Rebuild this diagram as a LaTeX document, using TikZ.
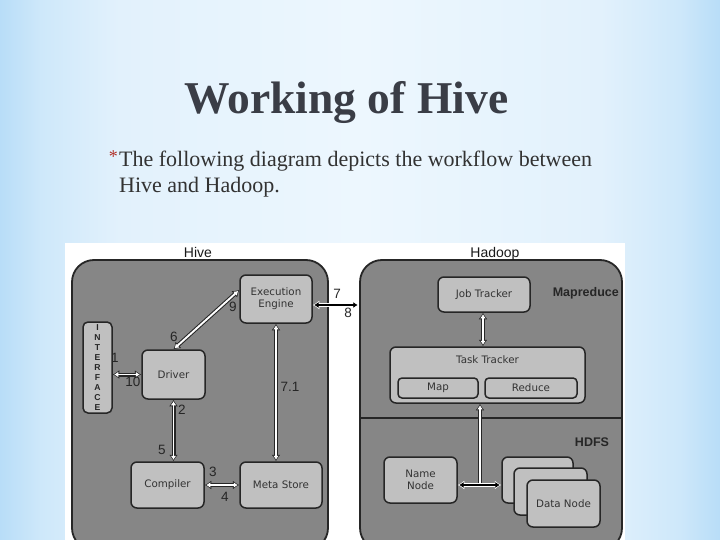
\documentclass[tikz,border=0pt]{standalone}
\usepackage{fontspec}
\setmainfont{Liberation Serif}
\newfontfamily\boxfont{DejaVu Sans}
\newfontfamily\lsans{Liberation Sans}
\usetikzlibrary{arrows.meta,calc}
\definecolor{bgedge}{RGB}{184,221,248}
\definecolor{bgnear}{RGB}{206,232,250}
\definecolor{bglight}{RGB}{226,241,252}
\definecolor{bgmid}{RGB}{237,247,254}
\definecolor{outerfill}{RGB}{134,134,134}
\definecolor{innerfill}{RGB}{192,192,192}
\definecolor{edgecol}{RGB}{38,38,38}
\definecolor{titlecol}{RGB}{58,61,70}
\definecolor{subcol}{RGB}{50,50,50}
\definecolor{starcol}{RGB}{176,48,40}
\pgfdeclarehorizontalshading{bgshade}{100bp}{color(0bp)=(bgedge); color(25bp)=(bgedge); color(27.8bp)=(bgnear); color(33.3bp)=(bglight); color(50bp)=(bgmid); color(66.7bp)=(bglight); color(72.2bp)=(bgnear); color(75bp)=(bgedge); color(100bp)=(bgedge)}
\tikzset{
  bigbox/.style={draw=edgecol, line width=1.8pt, fill=outerfill, rounded corners=22pt, inner sep=0pt},
  box/.style={draw=edgecol, line width=1.5pt, fill=innerfill, rounded corners=6pt, inner sep=0pt,
    font=\boxfont\fontsize{10.3}{12}\selectfont, text=black!80, align=center},
  num/.style={font=\lsans\fontsize{13.5}{13.5}\selectfont, text=black!85, inner sep=0pt},
  grp/.style={font=\lsans\fontsize{14}{14}\selectfont, text=black!90, inner sep=0pt, anchor=base},
  sect/.style={font=\lsans\bfseries\fontsize{12.5}{13}\selectfont, text=black!85, inner sep=0pt},
  hwout/.style={draw=black!85, line width=4pt, arrows={Latex[length=6.5pt,width=9pt]-Latex[length=6.5pt,width=9pt]}},
  hwin/.style={draw=white, line width=1.9pt, arrows={Latex[length=4pt,width=5.5pt]-Latex[length=4pt,width=5.5pt]}, shorten <=1.5pt, shorten >=1.5pt},
  hbout/.style={draw=white, line width=4pt, arrows={Latex[length=6.5pt,width=9pt]-Latex[length=6.5pt,width=9pt]}},
  hbin/.style={draw=black, line width=1.8pt, arrows={Latex[length=4.3pt,width=6pt]-Latex[length=4.3pt,width=6pt]}, shorten <=1.5pt, shorten >=1.5pt},
  upout/.style={draw=black!85, line width=4pt, arrows={-Latex[length=6.5pt,width=9pt]}},
  upin/.style={draw=white, line width=1.9pt, arrows={-Latex[length=4pt,width=5.5pt]}, shorten >=1.5pt},
}
\begin{document}
\begin{tikzpicture}[x=1pt,y=-1pt]
\useasboundingbox (0,0) rectangle (720,540);
% background
\shade[shading=bgshade] (0,0) rectangle (720,540);
% title
\node[anchor=base, font=\bfseries\fontsize{45.5}{46}\selectfont, text=titlecol, inner sep=0pt] (title) at (346.5,114) {Working of Hive};
\node[anchor=base west, font=\fontsize{22}{26}\selectfont, text=subcol, inner sep=0pt] (sub1) at (119,167) {The following diagram depicts the workflow between};
\node[anchor=base west, font=\fontsize{22}{26}\selectfont, text=subcol, inner sep=0pt] (sub2) at (119,193) {Hive and Hadoop.};
\node[anchor=base east, font=\fontsize{18}{18}\selectfont, text=starcol, inner sep=0pt] (star) at (118,163) {*};
% white panel
\fill[white] (65,243) rectangle (625,540);
\begin{scope}
\clip (65,243) rectangle (625,540);
\node[bigbox, minimum width=256pt, minimum height=290pt] (hive) at (200,405) {};
\node[bigbox, minimum width=262pt, minimum height=290pt] (hadoop) at (491,405) {};
\draw[edgecol, line width=1.5pt] (hadoop.west |- 0,418) -- (hadoop.east |- 0,418);
\end{scope}
\node[grp] (hivelbl) at (198,258) {Hive};
\node[grp] (hadooplbl) at (495,258) {Hadoop};
% hive nodes
\node[box, minimum width=72pt, minimum height=48pt] (engine) at (276,299) {Execution\\Engine};
\node[box, minimum width=29pt, minimum height=91pt, rounded corners=5pt,
  font=\lsans\bfseries\fontsize{8.6}{9.9}\selectfont, text=black!85] (iface) at (97.5,367.5) {I\\N\\T\\E\\R\\F\\A\\C\\E};
\node[box, minimum width=63pt, minimum height=49pt] (driver) at (173.5,374.5) {Driver};
\node[box, minimum width=73pt, minimum height=46pt] (compiler) at (167.5,485) {Compiler};
\node[box, minimum width=82pt, minimum height=46pt] (meta) at (281,485) {Meta Store};
% hadoop nodes
\node[box, minimum width=92pt, minimum height=35pt] (job) at (484,294.5) {Job Tracker};
\node[box, minimum width=195pt, minimum height=56pt] (task) at (487.5,375) {};
\node[font=\boxfont\fontsize{10.3}{12}\selectfont, text=black!80, inner sep=0pt] (tasklbl) at (487.5,360) {Task Tracker};
\node[box, minimum width=80pt, minimum height=20pt, rounded corners=4pt] (map) at (438,388) {Map};
\node[box, minimum width=92pt, minimum height=20pt, rounded corners=4pt] (reduce) at (531,388) {Reduce};
\node[sect, anchor=east] (mr) at (619,293) {Mapreduce};
\node[sect] (hdfs) at (592,442) {HDFS};
\node[box, minimum width=73pt, minimum height=46pt] (namenode) at (420.5,480) {Name\\Node};
\node[box, minimum width=71pt, minimum height=46pt] (data1) at (537.5,480) {};
\node[box, minimum width=73pt, minimum height=47pt] (data2) at (550.5,491.5) {};
\node[box, minimum width=73pt, minimum height=47pt] (data3) at (563.5,503.5) {Data Node};
% connectors (hive)
\draw[hwout] (driver.west -| iface.east) -- (driver.west);
\draw[hwin] (driver.west -| iface.east) -- (driver.west);
\draw[hwout] (driver.north) -- ([yshift=9pt]engine.west);
\draw[hwin] (driver.north) -- ([yshift=9pt]engine.west);
\draw[hwout] (driver.south) -- (driver.south |- compiler.north);
\draw[hwin] (driver.south) -- (driver.south |- compiler.north);
\draw[hwout] (compiler.east) -- (meta.west);
\draw[hwin] (compiler.east) -- (meta.west);
\draw[hwout] (engine.south) -- (engine.south |- meta.north);
\draw[hwin] (engine.south) -- (engine.south |- meta.north);
\draw[hbout] ([yshift=-6pt]engine.east) -- ([yshift=-6pt]engine.east -| hadoop.west);
\draw[hbin] ([yshift=-6pt]engine.east) -- ([yshift=-6pt]engine.east -| hadoop.west);
% connectors (hadoop)
\draw[hwout] ([xshift=-1pt]job.south) -- ([xshift=-1pt]job.south |- task.north);
\draw[hwin] ([xshift=-1pt]job.south) -- ([xshift=-1pt]job.south |- task.north);
\coordinate (junc) at (480,485);
\draw[upout] (junc) -- (junc |- task.south);
\draw[upin] (junc) -- (junc |- task.south);
\draw[hbout] (namenode.east |- junc) -- (data1.west |- junc);
\draw[hbin] (namenode.east |- junc) -- (data1.west |- junc);
% numbers
\node[num] (n1) at (115,358) {1};
\node[num] (n10) at (133,382) {10};
\node[num] (n6) at (174,337) {6};
\node[num] (n9) at (233,307) {9};
\node[num] (n2) at (182,410) {2};
\node[num] (n5) at (162,450) {5};
\node[num] (n3) at (213,472) {3};
\node[num] (n4) at (225,497) {4};
\node[num] (n71) at (290,387) {7.1};
\node[num] (n7) at (337,294) {7};
\node[num] (n8) at (348,313) {8};
\end{tikzpicture}
\end{document}
